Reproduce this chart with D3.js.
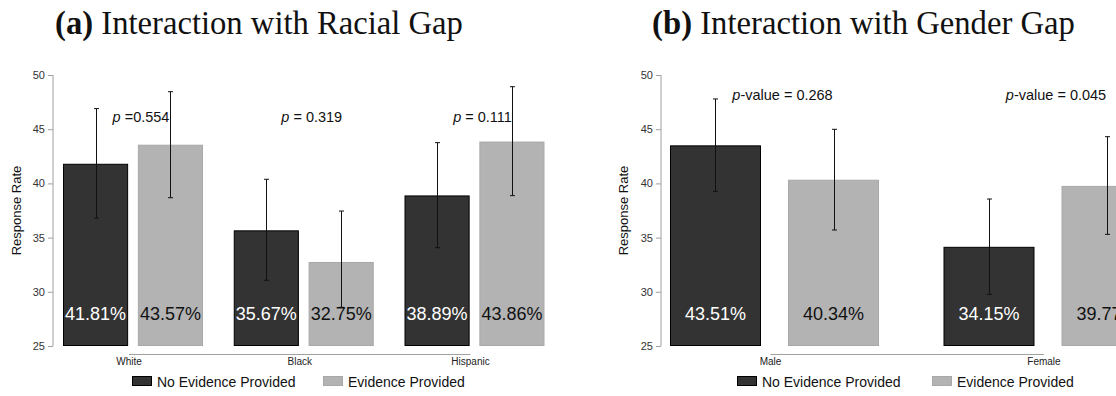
<!DOCTYPE html>
<html><head><meta charset="utf-8">
<script src="https://cdn.jsdelivr.net/npm/d3@7"></script>
<style>
html,body{margin:0;padding:0;background:#fff;overflow:hidden}
svg{display:block}
</style></head>
<body><svg id="c" width="1116" height="396"></svg>
<script>
// ---- data ----
const seriesNames = ["No Evidence Provided", "Evidence Provided"];
const yTicks = [25, 30, 35, 40, 45, 50];

const raceCats = ["White", "Black", "Hispanic"];
const raceNoEvid = [41.81, 35.67, 38.89];
const raceEvid = [43.57, 32.75, 43.86];
const raceNoEvidLo = [36.80, 31.06, 34.07];
const raceNoEvidHi = [46.90, 40.38, 43.76];
const raceEvidLo = [38.68, 28.57, 38.87];
const raceEvidHi = [48.46, 37.45, 48.92];
const raceP = ["=0.554", "= 0.319", "= 0.111"];

const genderCats = ["Male", "Female"];
const genderNoEvid = [43.51, 34.15];
const genderEvid = [40.34, 39.77];
const genderNoEvidLo = [39.27, 29.77];
const genderNoEvidHi = [47.79, 38.56];
const genderEvidLo = [35.70, 35.30];
const genderEvidHi = [44.99, 44.31];
const genderP = ["-value = 0.268", "-value = 0.045"];

// ---- drawing ----
const svg = d3.select("#c");
const SANS = "Liberation Sans, Arial, sans-serif";
const fills = ["#333333", "#b3b3b3"];
const strokes = ["#000000", "#a8a8a8"];
const labelColors = ["#ffffff", "#111111"];

const y = d3.scaleLinear().domain([25, 50]).range([346, 75]);

function panel(o) {
  const g = svg.append("g");
  // title
  const t = g.append("text")
    .attr("x", o.titleX).attr("y", 34)
    .attr("text-anchor", "middle")
    .style("font-family", "Liberation Serif, Times New Roman, serif")
    .style("font-size", "28px").style("fill", "#111");
  t.append("tspan").style("font-weight", "bold").text(o.titleTag);
  t.append("tspan").text(" " + o.title);
  const w = t.node().getComputedTextLength();
  t.style("font-size", (28 * o.titleW / w) + "px");

  const x0 = d3.scalePoint().domain(o.cats).range(o.centers);
  const x1 = d3.scaleBand().domain(seriesNames).range([-o.groupW / 2, o.groupW / 2]).paddingInner(o.pad);

  // y axis
  const ya = d3.axisLeft(y).tickValues(yTicks).tickSize(5).tickPadding(3);
  const ag = g.append("g").attr("transform", `translate(${o.axisX},0)`).call(ya);
  ag.select(".domain").attr("stroke", "#a0a0a0").attr("d", `M-0.5,${y(25)}H0.5V${y(50)}H-0.5`).attr("stroke-width", 1).attr("d", `M0,${y(25)}V${y(50)}`);
  ag.selectAll(".tick line").attr("stroke", "#a0a0a0");
  ag.selectAll(".tick text").style("font-family", SANS).style("font-size", "11px").style("fill", "#333");

  g.append("text")
    .attr("transform", `translate(${o.yTitleX},${(y(25) + y(50)) / 2}) rotate(-90)`)
    .attr("text-anchor", "middle").attr("dy", "0.35em")
    .style("font-family", SANS).style("font-size", "13px").style("fill", "#111")
    .text("Response Rate");

  // x axis line & labels
  const labX = c => x0(c) - 4;
  g.append("line")
    .attr("x1", labX(o.cats[0])).attr("x2", labX(o.cats[o.cats.length - 1]))
    .attr("y1", 354.5).attr("y2", 354.5)
    .attr("stroke", "#a0a0a0").attr("stroke-width", 1);
  g.selectAll(".cl").data(o.cats).join("text")
    .attr("x", labX).attr("y", 365).attr("text-anchor", "middle")
    .style("font-family", SANS).style("font-size", "10px").style("fill", "#222")
    .text(d => d);

  const sets = [
    { vals: o.s0, lo: o.lo0, hi: o.hi0 },
    { vals: o.s1, lo: o.lo1, hi: o.hi1 }
  ];
  sets.forEach((s, si) => {
    const name = seriesNames[si];
    const bx = i => x0(o.cats[i]) + x1(name);
    const bw = x1.bandwidth();
    g.selectAll(null).data(s.vals).join("rect")
      .attr("x", (d, i) => bx(i) + 0.5).attr("y", d => y(d) + 0.5)
      .attr("width", bw - 1).attr("height", d => y(25) - y(d) - 1)
      .attr("fill", fills[si]).attr("stroke", strokes[si]).attr("stroke-width", 1);
    g.selectAll(null).data(s.vals).join("text")
      .attr("x", (d, i) => bx(i) + bw / 2).attr("y", y(27.4))
      .attr("text-anchor", "middle")
      .style("font-family", SANS).style("font-size", "18px").style("fill", labelColors[si])
      .text(d => d.toFixed(2) + "%");
    // error bars
    s.vals.forEach((d, i) => {
      const cx = Math.round(bx(i) + bw / 2) + 0.5;
      const eg = g.append("g").attr("stroke", "#111").attr("stroke-width", 1);
      eg.append("line").attr("x1", cx).attr("x2", cx).attr("y1", y(s.lo[i])).attr("y2", y(s.hi[i]));
      eg.append("line").attr("x1", cx - 2.5).attr("x2", cx + 2.5).attr("y1", y(s.lo[i])).attr("y2", y(s.lo[i]));
      eg.append("line").attr("x1", cx - 2.5).attr("x2", cx + 2.5).attr("y1", y(s.hi[i])).attr("y2", y(s.hi[i]));
    });
  });

  // p labels
  g.selectAll(".pl").data(o.p).join("text")
    .attr("x", (d, i) => x0(o.cats[i]) + 8).attr("y", y(o.pY))
    .attr("text-anchor", "middle")
    .style("font-family", SANS).style("font-size", "14.5px").style("fill", "#111")
    .each(function (d) {
      const el = d3.select(this);
      el.append("tspan").style("font-style", "italic").text("p");
      el.append("tspan").text((d[0] === "=" ? " " : "") + d);
    });

  // legend
  const lg = g.append("g");
  o.legend.forEach((lx, i) => {
    lg.append("rect").attr("x", lx + 0.5).attr("y", 376.5).attr("width", 19).attr("height", 9)
      .attr("fill", fills[i]).attr("stroke", strokes[i]);
    lg.append("text").attr("x", lx + 25).attr("y", 387)
      .style("font-family", SANS).style("font-size", "14px").style("fill", "#111")
      .text(seriesNames[i]);
  });
}

panel({
  titleTag: "(a)", title: "Interaction with Racial Gap", titleX: 259, titleW: 408,
  cats: raceCats, centers: [133, 474.5], groupW: 140, pad: 0.13, axisX: 53, yTitleX: 16,
  s0: raceNoEvid, s1: raceEvid, lo0: raceNoEvidLo, hi0: raceNoEvidHi, lo1: raceEvidLo, hi1: raceEvidHi,
  p: raceP, pY: 45.65, legend: [132, 323]
});
panel({
  titleTag: "(b)", title: "Interaction with Gender Gap", titleX: 863.5, titleW: 423,
  cats: genderCats, centers: [774.5, 1048], groupW: 209, pad: 0.229, axisX: 661, yTitleX: 623,
  s0: genderNoEvid, s1: genderEvid, lo0: genderNoEvidLo, hi0: genderNoEvidHi, lo1: genderEvidLo, hi1: genderEvidHi,
  p: genderP, pY: 47.7, legend: [737, 932]
});
</script></body></html>
